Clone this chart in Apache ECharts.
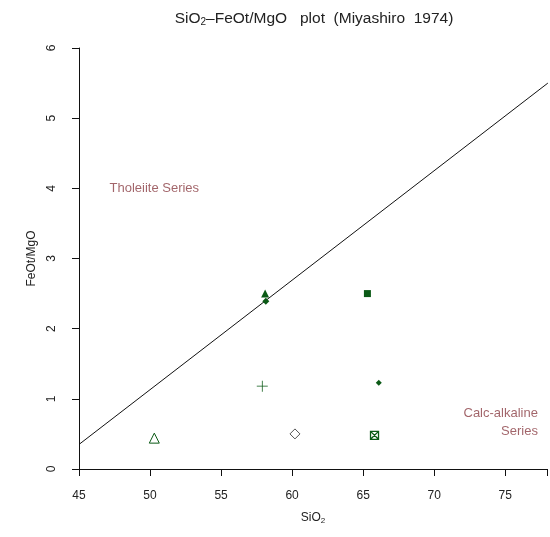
<!DOCTYPE html>
<html>
<head>
<meta charset="utf-8">
<script src="https://cdn.jsdelivr.net/npm/echarts@6/dist/echarts.min.js"></script>
<style>html,body{margin:0;padding:0;background:#fff}#c{width:550px;height:537px}</style>
</head>
<body>
<div id="c"></div>
<script>
// Sample points
var sampleSiO2  = [58.1, 58.15, 65.3, 57.9, 66.1, 60.2, 65.8, 50.3];
var sampleRatio = [2.50, 2.39, 2.50, 1.18, 1.23, 0.50, 0.48, 0.44];
// Miyashiro (1974) dividing line endpoints
var lineSiO2  = [45, 78];
var lineRatio = [0.35, 5.50];
// Field labels
var fieldNames = ['Tholeiite Series', 'Calc-alkaline\nSeries'];
var fieldSiO2  = [50.3, 77.3];
var fieldRatio = [4.0, 0.67];
// Axis ticks
var xTicks = [45, 50, 55, 60, 65, 70, 75];
var yTicks = [0, 1, 2, 3, 4, 5, 6];

var green = '#0b5a16';
var fieldColor = '#8b3f45';
var font = 'Liberation Sans, Arial, sans-serif';

var plusPath = 'path://M9.3,0H10.7V9.3H20V10.7H10.7V20H9.3V10.7H0V9.3H9.3Z';
var boxXPath = 'path://M0,0H10V10H0Z M1,1L9,9 M9,1L1,9';

var markers = [
  {symbol: 'triangle', size: 8, fill: green, border: green, bw: 0},
  {symbol: 'diamond', size: 7, fill: green, border: green, bw: 0},
  {symbol: 'rect', size: 7, fill: green, border: green, bw: 0},
  {symbol: plusPath, size: 11, fill: green, border: green, bw: 0},
  {symbol: 'diamond', size: 6, fill: green, border: green, bw: 0},
  {symbol: 'diamond', size: 10, fill: '#fff', border: '#555', bw: 1},
  {symbol: boxXPath, size: 8, fill: 'none', border: green, bw: 1.3},
  {symbol: 'triangle', size: 10, fill: '#fff', border: green, bw: 1}
];

var series = [];
series.push({
  type: 'line',
  data: lineSiO2.map(function (x, i) { return [x, lineRatio[i]]; }),
  symbol: 'none',
  clip: true,
  lineStyle: {color: '#111', width: 1},
  silent: true,
  z: 2
});
sampleSiO2.forEach(function (x, i) {
  var m = markers[i];
  series.push({
    type: 'scatter',
    data: [[x, sampleRatio[i]]],
    symbol: m.symbol,
    symbolSize: m.size,
    itemStyle: {color: m.fill, borderColor: m.border, borderWidth: m.bw, opacity: 1},
    z: 3
  });
});
series.push({
  type: 'scatter',
  data: fieldSiO2.map(function (x, i) { return {value: [x, fieldRatio[i]], name: fieldNames[i]}; }),
  symbolSize: 0,
  label: {
    show: true,
    formatter: function (p) { return p.name; },
    color: fieldColor,
    fontFamily: font,
    fontSize: 13,
    lineHeight: 18,
    position: 'inside'
  },
  silent: true,
  z: 4
});
series[series.length - 1].data[0].label = {align: 'center', verticalAlign: 'middle'};
series[series.length - 1].data[1].label = {align: 'right', verticalAlign: 'middle'};

var chart = echarts.init(document.getElementById('c'), null, {renderer: 'canvas'});
chart.setOption({
  animation: false,
  backgroundColor: '#fff',
  title: {
    text: 'SiO{sub|2}–FeOt/MgO   plot  (Miyashiro  1974)',
    left: 309,
    top: 5,
    textAlign: 'center',
    textStyle: {
      fontFamily: font, fontSize: 15.5, fontWeight: 'normal', color: '#222',
      rich: {sub: {fontSize: 10, verticalAlign: 'bottom', padding: [7, 0, 0, 0], fontFamily: font, color: '#222'}}
    }
  },
  grid: {left: 79, right: 0, top: 48, bottom: 68, containLabel: false},
  xAxis: {
    type: 'value',
    min: 45, max: 77.94, interval: 5,
    name: 'SiO{sub|2}',
    nameLocation: 'middle',
    nameGap: 42,
    nameTextStyle: {fontFamily: font, fontSize: 12, color: '#222',
      rich: {sub: {fontSize: 8, padding: [6, 0, 0, 0], fontFamily: font, color: '#222'}}},
    axisLine: {show: true, lineStyle: {color: '#111', width: 1}},
    axisTick: {show: true, length: 7, lineStyle: {color: '#111'}},
    axisLabel: {
      margin: 21, fontFamily: font, fontSize: 12, color: '#222',
      formatter: function (v) { return xTicks.indexOf(v) >= 0 ? String(v) : ''; }
    },
    splitLine: {show: false}
  },
  yAxis: {
    type: 'value',
    min: 0, max: 6, interval: 1,
    name: 'FeOt/MgO',
    nameLocation: 'middle',
    nameGap: 40,
    nameRotate: 90,
    nameTextStyle: {fontFamily: font, fontSize: 12, color: '#222'},
    axisLine: {show: true, lineStyle: {color: '#111', width: 1}},
    axisTick: {show: true, length: 7, lineStyle: {color: '#111'}},
    axisLabel: {
      margin: 21, rotate: 90, fontFamily: font, fontSize: 12, color: '#222',
      formatter: function (v) { return yTicks.indexOf(v) >= 0 ? String(v) : ''; }
    },
    splitLine: {show: false}
  },
  series: series
});
</script>
</body>
</html>
